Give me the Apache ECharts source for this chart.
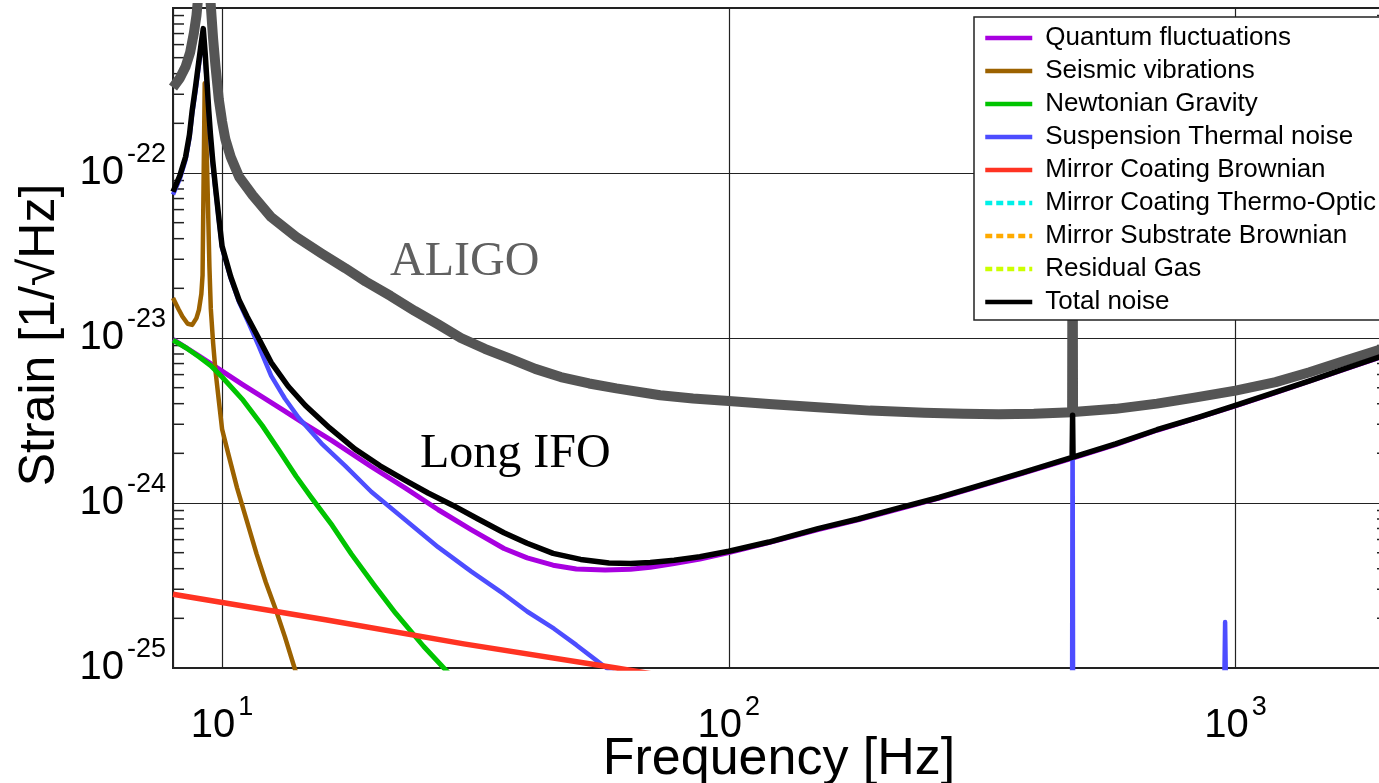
<!DOCTYPE html>
<html><head><meta charset="utf-8">
<script src="https://cdn.jsdelivr.net/npm/echarts@6/dist/echarts.min.js"></script>
<style>html,body{margin:0;padding:0;background:#fff}#c{width:1379px;height:783px}</style>
</head><body><div id="c"></div>
<script>
// ---- axis extents and ticks ----
const xMin = 8, xMax = 2000;
const yMin = 1e-25, yMax = 1e-21;
const yMinorTicks = [2e-25,3e-25,4e-25,5e-25,6e-25,7e-25,8e-25,9e-25,
  2e-24,3e-24,4e-24,5e-24,6e-24,7e-24,8e-24,9e-24,
  2e-23,3e-23,4e-23,5e-23,6e-23,7e-23,8e-23,9e-23,
  2e-22,3e-22,4e-22,5e-22,6e-22,7e-22,8e-22,9e-22];

// ---- series names ----
const names = ['Quantum fluctuations','Seismic vibrations','Newtonian Gravity','Suspension Thermal noise',
  'Mirror Coating Brownian','Mirror Coating Thermo-Optic','Mirror Substrate Brownian','Residual Gas','Total noise'];

// ---- data [frequency Hz, strain 1/sqrt(Hz)] ----
const aligo = [[8,3.3e-22],[8.25,3.75e-22],[8.47,4.4e-22],[8.65,5.4e-22],[8.8,7.1e-22],[8.9,9e-22],[9.0,1.3e-21],
  [9.2,3e-21],[9.45,1.3e-21],[9.6,6.5e-22],[9.7,4.5e-22],[9.85,2.8e-22],[10.0,2.05e-22],[10.15,1.6e-22],
  [10.4,1.25e-22],[10.8,9.5e-23],[11.5,7.3e-23],[12.5,5.4e-23],[14,4.1e-23],[15.7,3.26e-23],[17.5,2.65e-23],
  [19.2,2.2e-23],[21.5,1.8e-23],[24,1.46e-23],[26.8,1.2e-23],[29.6,1.0e-23],[33,8.6e-24],[37,7.5e-24],
  [41.5,6.5e-24],[46.6,5.8e-24],[53,5.3e-24],[60,4.95e-24],[73.2,4.5e-24],[85,4.3e-24],[100,4.15e-24],
  [120,3.98e-24],[150,3.8e-24],[190,3.63e-24],[243,3.52e-24],[290,3.47e-24],[341,3.45e-24],[400,3.47e-24],
  [476,3.55e-24],[477,1e-22],[478,3.56e-24],[580,3.72e-24],[700,4.0e-24],[830,4.35e-24],[1000,4.8e-24],
  [1200,5.4e-24],[1400,6.2e-24],[1650,7.3e-24],[2000,8.8e-24]];
const quantum = [[8,9.8e-24],[9,7.8e-24],[10,6.3e-24],[11,5.2e-24],[12,4.4e-24],[13.2,3.65e-24],[14.6,3.0e-24],
  [16.5,2.38e-24],[19.7,1.66e-24],[23,1.23e-24],[26.7,9.1e-25],[31,6.9e-25],[36,5.3e-25],[40,4.65e-25],
  [45,4.2e-25],[50,3.98e-25],[57,3.93e-25],[64,3.97e-25],[70,4.08e-25],[78,4.3e-25],[87.7,4.58e-25],
  [100,5.0e-25],[120,5.75e-25],[150,6.9e-25],[180,7.9e-25],[216,9.2e-25],[260,1.07e-24],[300,1.22e-24],
  [380,1.51e-24],[477,1.87e-24],[580,2.26e-24],[700,2.76e-24],[850,3.31e-24],[1000,3.88e-24],[1200,4.67e-24],
  [1400,5.47e-24],[1650,6.5e-24],[2000,7.95e-24]];
const seismic = [[8,1.75e-23],[8.2,1.5e-23],[8.35,1.35e-23],[8.55,1.22e-23],[8.73,1.2e-23],[8.9,1.32e-23],
  [9.0,1.48e-23],[9.1,1.85e-23],[9.15,2.4e-23],[9.2,1.1e-22],[9.24,3.5e-22],[9.28,2.2e-22],[9.34,1.1e-22],
  [9.44,2.7e-23],[9.5,1.5e-23],[9.6,9.3e-24],[9.7,6.4e-24],[9.85,4.2e-24],[10,2.8e-24],[10.3,1.95e-24],
  [10.7,1.24e-24],[11.2,7.7e-25],[11.7,4.9e-25],[12.2,3.3e-25],[12.8,2.2e-25],[13.3,1.55e-25],[13.9,1.0e-25],
  [15,4.8e-26]];
const newtonian = [[8,9.7e-24],[8.5,8.7e-24],[9,7.7e-24],[9.5,6.8e-24],[10,5.8e-24],[11,4.2e-24],[12,2.95e-24],
  [13,2.05e-24],[14,1.45e-24],[15,1.08e-24],[16.5,7.3e-25],[18,4.9e-25],[20,3.15e-25],[22,2.15e-25],[25,1.35e-25],
  [28,9.3e-26],[32,6e-26]];
const suspension = [[8,7.4e-23],[8.25,9.2e-23],[8.47,1.2e-22],[8.62,1.62e-22],[8.73,2.3e-22],[8.87,3.2e-22],
  [9.0,4.5e-22],[9.1,5.8e-22],[9.18,6.8e-22],[9.26,5.0e-22],[9.34,3.3e-22],[9.41,2.3e-22],[9.48,1.65e-22],
  [9.58,1.15e-22],[9.7,8e-23],[9.85,5.2e-23],[10,3.5e-23],[10.4,2.3e-23],[10.8,1.65e-23],[11.3,1.22e-23],
  [11.8,9.0e-24],[12.5,5.9e-24],[13.3,4.3e-24],[14.15,3.3e-24],[15.7,2.3e-24],[17.5,1.68e-24],[19.7,1.17e-24],
  [23,7.9e-25],[26.7,5.4e-25],[31,3.85e-25],[36,2.8e-25],[40,2.2e-25],[45.2,1.73e-25],[50,1.38e-25],
  [56.6,1.03e-25],[62,8.5e-26],
  [300,null],[476,9e-26],[477,3.3e-24],[478,9e-26],[700,null],[951,9e-26],[954,1.9e-25],[957,9e-26]];
const coatingBrownian = [[8,2.8e-25],[16,1.96e-25],[30,1.4e-25],[60,1.0e-25],[100,7.7e-26]];
const coatingThermoOptic = [];
const substrateBrownian = [];
const residualGas = [];
const total = [[8,7.7e-23],[8.25,9.6e-23],[8.47,1.25e-22],[8.62,1.7e-22],[8.73,2.4e-22],[8.87,3.4e-22],
  [9.0,4.8e-22],[9.1,6.2e-22],[9.18,7.5e-22],[9.26,5.3e-22],[9.34,3.5e-22],[9.41,2.4e-22],[9.48,1.74e-22],
  [9.58,1.2e-22],[9.7,8.3e-23],[9.85,5.4e-23],[10,3.6e-23],[10.4,2.35e-23],[10.8,1.7e-23],[11.2,1.35e-23],
  [11.7,1.05e-23],[12.5,7.1e-24],[13.5,5.1e-24],[14.6,3.9e-24],[16.3,2.85e-24],[18.3,2.12e-24],[20.5,1.68e-24],
  [22.9,1.38e-24],[25.5,1.15e-24],[28.5,9.7e-25],[32,8.0e-25],[36,6.6e-25],[40,5.7e-25],[45,4.95e-25],
  [51,4.55e-25],[58,4.33e-25],[64,4.3e-25],[70,4.36e-25],[78,4.5e-25],[87.7,4.72e-25],[100,5.1e-25],
  [120,5.8e-25],[150,7.0e-25],[180,8.0e-25],[216,9.3e-25],[260,1.08e-24],[300,1.23e-24],[380,1.53e-24],
  [476,1.89e-24],[477,3.4e-24],[478,1.9e-24],[580,2.28e-24],[700,2.78e-24],[850,3.33e-24],[1000,3.9e-24],
  [1200,4.7e-24],[1400,5.5e-24],[1650,6.55e-24],[2000,8.0e-24]];

const colors = {
  aligo:'#555555', quantum:'#a800e0', seismic:'#9c6200', newtonian:'#00c400', suspension:'#4d4dff',
  coatingBrownian:'#ff3322', thermo:'#00f0e8', substrate:'#ffaa00', gas:'#ccff00', total:'#000000'
};

// ECharts rounds very small numbers to 0 on log axes, so the strain axis is plotted in units of 1e-25
const UNIT_EXP = -25;
const UNIT = Math.pow(10, UNIT_EXP);
const toPlot = arr => arr.map(p => [p[0], p[1] == null ? null : p[1] / UNIT]);

const FONT = 'Liberation Sans';
const rich = {
  b: {fontSize: 40, lineHeight: 64, fontFamily: FONT, color: '#000'},
  s: {fontSize: 27, lineHeight: 26, verticalAlign: 'top', fontFamily: FONT, color: '#000', padding: [0,0,0,3]}
};
function isPow10(v) {
  const e = Math.log10(v);
  return Math.abs(e - Math.round(e)) < 1e-6;
}
function powLabel(v, offset) {
  return '{b|10}{s|' + (Math.round(Math.log10(v)) + offset) + '}';
}

function lineSeries(name, data, color, width, dash) {
  return {
    name, type: 'line', data: toPlot(data), symbol: 'none', showSymbol: false, silent: true, animation: false,
    connectNulls: false, clip: true,
    lineStyle: {color, width, type: dash || 'solid', cap: 'butt', join: 'round'},
    itemStyle: {color}, emphasis: {disabled: true}
  };
}

const chart = echarts.init(document.getElementById('c'), null, {renderer: 'canvas'});
chart.setOption({
  backgroundColor: '#fff',
  animation: false,
  grid: {left: 173, top: 8, width: 1215, height: 660, show: true, borderColor: '#222', borderWidth: 2,
    containLabel: false, outerBoundsMode: 'none'},
  xAxis: {
    type: 'log', logBase: 10, min: xMin, max: xMax,
    axisLine: {show: false}, axisTick: {show: false},
    splitLine: {show: true, lineStyle: {color: '#222', width: 1.2}},
    axisLabel: {formatter: v => isPow10(v) && v >= 10 ? powLabel(v, 0) : '', rich, margin: 26,
      showMinLabel: true, showMaxLabel: true}
  },
  yAxis: {
    type: 'log', logBase: 10, min: yMin / UNIT, max: yMax / UNIT,
    axisLine: {show: false}, axisTick: {show: false},
    splitLine: {show: true, lineStyle: {color: '#222', width: 1.2}},
    axisLabel: {formatter: v => isPow10(v) && v * UNIT < yMax * 0.99 ? powLabel(v, UNIT_EXP) : '', rich, margin: 7,
      showMinLabel: true, showMaxLabel: true}
  },
  legend: {
    data: names, orient: 'vertical', left: 974, top: 17,
    padding: [8, 9, 5, 9], itemGap: 7, itemWidth: 47, itemHeight: 26,
    backgroundColor: '#fff', borderColor: '#222', borderWidth: 1.5, borderRadius: 0,
    selectedMode: false,
    itemStyle: {opacity: 0, borderWidth: 0},
    textStyle: {fontSize: 26, fontFamily: FONT, color: '#000', lineHeight: 26, padding: [0,0,0,8]},
    lineStyle: {width: 4.5}
  },
  graphic: [
    {type: 'text', x: 390, y: 262, z: 10, style: {text: 'ALIGO', font: '48px "Liberation Serif"', fill: '#606060', align: 'left', verticalAlign: 'middle'}},
    {type: 'text', x: 420, y: 454, z: 10, style: {text: 'Long IFO', font: '48px "Liberation Serif"', fill: '#000', align: 'left', verticalAlign: 'middle'}},
    {type: 'text', x: 779, y: 760, z: 10, style: {text: 'Frequency [Hz]', font: '52px "Liberation Sans"', fill: '#000', align: 'center', verticalAlign: 'middle'}},
    {type: 'text', x: 40, y: 335, rotation: Math.PI / 2, z: 10, style: {text: 'Strain [1/\u221AHz]', font: '50px "Liberation Sans"', fill: '#000', align: 'center', verticalAlign: 'middle'}}
  ],
  series: [
    lineSeries('ALIGO', aligo, colors.aligo, 10),
    lineSeries(names[0], quantum, colors.quantum, 5),
    lineSeries(names[1], seismic, colors.seismic, 4.5),
    lineSeries(names[2], newtonian, colors.newtonian, 5),
    lineSeries(names[3], suspension, colors.suspension, 4.5),
    lineSeries(names[4], coatingBrownian, colors.coatingBrownian, 5.5),
    lineSeries(names[5], coatingThermoOptic, colors.thermo, 4.5, [7, 4]),
    lineSeries(names[6], substrateBrownian, colors.substrate, 4.5, [7, 4]),
    lineSeries(names[7], residualGas, colors.gas, 4.5, [7, 4]),
    lineSeries(names[8], total, colors.total, 5.5),
    {
      type: 'custom', name: 'minorTicks', silent: true, clip: false, z: 3, animation: false,
      data: yMinorTicks.map(v => [xMin, v / UNIT]),
      renderItem: function (params, api) {
        const v = api.value(1);
        const l = api.coord([xMin, v]);
        const r = api.coord([xMax, v]);
        return {type: 'group', children: [
          {type: 'line', shape: {x1: l[0], y1: l[1], x2: l[0] + 11, y2: l[1]}, style: {stroke: '#222', lineWidth: 1.5}},
          {type: 'line', shape: {x1: r[0] - 11, y1: r[1], x2: r[0], y2: r[1]}, style: {stroke: '#222', lineWidth: 1.5}}
        ]};
      }
    }
  ]
});
</script></body></html>
